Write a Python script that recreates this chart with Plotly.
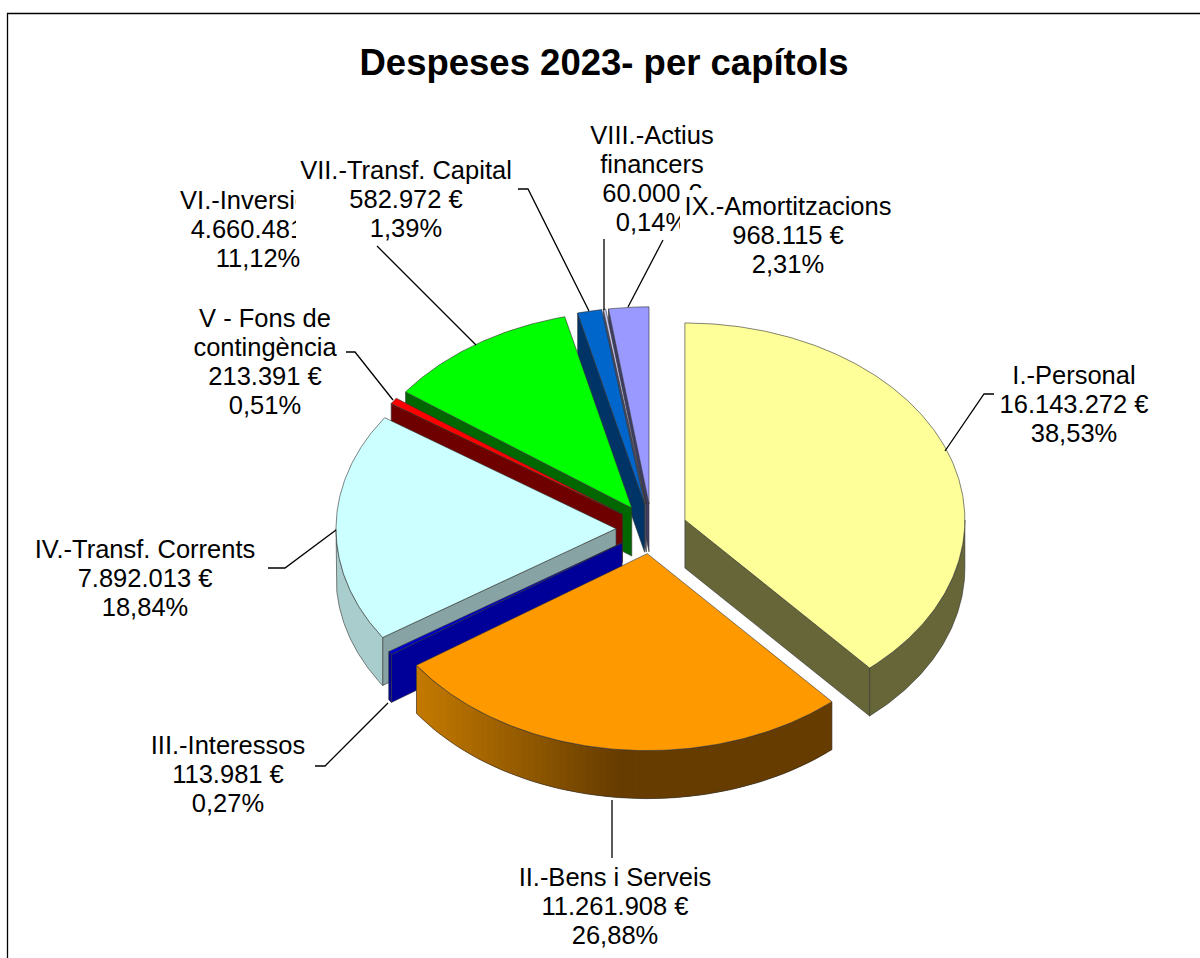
import math
import plotly.graph_objects as go

# ---- data ----
categories = ["I.-Personal", "II.-Bens i Serveis", "III.-Interessos", "IV.-Transf. Corrents",
              "V - Fons de contingència", "VI.-Inversions", "VII.-Transf. Capital",
              "VIII.-Actius financers", "IX.-Amortitzacions"]
values = [16143272, 11261908, 113981, 7892013, 213391, 4660481, 582972, 60000, 968115]
amount_labels = ["16.143.272 €", "11.261.908 €", "113.981 €", "7.892.013 €", "213.391 €",
                 "4.660.481 €", "582.972 €", "60.000 €", "968.115 €"]
percent_labels = ["38,53%", "26,88%", "0,27%", "18,84%", "0,51%", "11,12%", "1,39%", "0,14%", "2,31%"]
name_lines = [["I.-Personal"], ["II.-Bens i Serveis"], ["III.-Interessos"], ["IV.-Transf. Corrents"],
              ["V - Fons de", "contingència"], ["VI.-Inversions"], ["VII.-Transf. Capital"],
              ["VIII.-Actius", "financers"], ["IX.-Amortitzacions"]]
title_text = "Despeses 2023- per capítols"

# ---- styles ----
top_colors = ["#FFFF99", "#FF9900", "#0000C8", "#CCFFFF", "#FF0000", "#00FF00", "#0066CC", "#C8C8F0", "#9999FF"]
cut_colors = ["#666638", "#663C00", "#000099", "#88A3A3", "#6E0000", "#006600", "#003366", "#50506A", "#3D3D66"]
outer_colors = ["#666638", None, "#000099", "#A9CCCC", "#6E0000", "#006600", "#003366", "#50506A", "#3D3D66"]
edge = "rgba(50,50,50,0.6)"
FONT = "Liberation Sans"
LABEL_SIZE = 25.5
LINE_STEP = 29

# geometry of the tilted pie, in page pixels
CX, CY, RX, RY, DEPTH, EXPLODE = 651.6, 528.8, 280.0, 197.0, 48.0, 0.127

# label block: centre x, y of first line
label_pos = [(1074, 378), (615, 880), (228, 748), (145, 552), (265, 321), (258, 203), (406, 173), (652, 138), (788, 209)]
# white boxes that hide neighbouring labels: painted just before the label of that index
label_masks = {6: (296, 155, 520, 244), 8: (680, 190, 895, 285)}
leaders = [
    [(945, 451), (984, 394), (994, 394)],
    [(612, 800), (612, 858)],
    [(388, 703), (325, 766), (315, 766)],
    [(336, 530), (285, 568), (268, 568)],
    [(393, 400), (355, 352), (346, 352)],
    [(476, 345), (377, 246)],
    [(589, 311), (528, 189), (518, 189)],
    [(604, 310), (604, 239)],
    [(628, 307), (663, 240)],
]

total = sum(values)
fig = go.Figure()


def poly(xs, ys, fill, line=edge, width=1.0):
    fig.add_trace(go.Scatter(x=list(xs) + [xs[0]], y=list(ys) + [ys[0]], mode="lines", fill="toself",
                             fillcolor=fill, line=dict(color=line, width=width),
                             hoverinfo="skip", showlegend=False))


def pt(c, deg, r=1.0):
    a = math.radians(deg)
    return c[0] + r * RX * math.sin(a), c[1] - r * RY * math.cos(a)


def lerp_hex(t):
    a, b = (0xC4, 0x7A, 0x00), (0x66, 0x3C, 0x00)
    return "rgb(%d,%d,%d)" % tuple(round(a[i] + (b[i] - a[i]) * t) for i in range(3))


def outer_wall(c, a0, a1, color):
    lo, hi = max(a0, 90), min(a1, 270)
    if hi <= lo:
        return
    if color is None:
        n = 70
        # painted right to left, with every strip reaching over the next one so no seams show
        for k in range(n):
            s0 = lo + (hi - lo) * k / n
            s1 = lo + (hi - lo) * min(n, k + 2) / n
            s_mid = lo + (hi - lo) * (k + 0.5) / n
            xm, _ = pt(c, s_mid)
            t = min(1, max(0, (xm - 417) / (620 - 417)))
            col = lerp_hex(t)
            ang = [s0 + (s1 - s0) * j / 3 for j in range(4)]
            arc = [pt(c, a) for a in ang]
            poly([p[0] for p in arc] + [p[0] for p in arc[::-1]],
                 [p[1] for p in arc] + [p[1] + DEPTH for p in arc[::-1]], col, col, 0)
        ang = [lo + (hi - lo) * k / 80 for k in range(81)]
        pts = [pt(c, a) for a in ang]
        fig.add_trace(go.Scatter(x=[p[0] for p in pts] + [pts[-1][0]] + [p[0] for p in pts[::-1]] + [pts[0][0], pts[0][0]],
                                 y=[p[1] + DEPTH for p in pts] + [pts[-1][1]] + [p[1] for p in pts[::-1]] + [pts[0][1] + DEPTH, pts[0][1] + DEPTH],
                                 mode="lines", line=dict(color=edge, width=1.0), hoverinfo="skip", showlegend=False))
    else:
        ang = [lo + (hi - lo) * k / 80 for k in range(81)]
        pts = [pt(c, a) for a in ang]
        poly([p[0] for p in pts] + [p[0] for p in pts[::-1]],
             [p[1] for p in pts] + [p[1] + DEPTH for p in pts[::-1]], color)


# slice angles, clockwise from the top
spans = []
acc = 0.0
for v in values:
    spans.append((acc, acc + v / total * 360))
    acc += v / total * 360

# back-to-front painting
for i in [0, 8, 7, 6, 5, 4, 3, 2, 1]:
    a0, a1 = spans[i]
    mid = math.radians((a0 + a1) / 2)
    c = (CX + EXPLODE * RX * math.sin(mid), CY - EXPLODE * RY * math.cos(mid))
    # radial cut faces that look towards the viewer
    if 180 < a0 < 360:
        x, y = pt(c, a0)
        poly([c[0], x, x, c[0]], [c[1], y, y + DEPTH, c[1] + DEPTH], cut_colors[i])
    if 0 < a1 < 180:
        x, y = pt(c, a1)
        poly([c[0], x, x, c[0]], [c[1], y, y + DEPTH, c[1] + DEPTH], cut_colors[i])
    outer_wall(c, a0, a1, outer_colors[i])
    # top face
    n = max(2, int((a1 - a0) * 2))
    arc = [pt(c, a0 + (a1 - a0) * k / n) for k in range(n + 1)]
    poly([c[0]] + [p[0] for p in arc], [c[1]] + [p[1] for p in arc], top_colors[i])

# labels, one text point per line so the line step is exact
for i in [0, 1, 2, 3, 4, 5, 7, 6, 8]:
    if i in label_masks:
        x0, y0, x1, y1 = label_masks[i]
        poly([x0, x1, x1, x0], [y0, y0, y1, y1], "#FFFFFF", "#FFFFFF", 0)
    lines = name_lines[i] + [amount_labels[i], percent_labels[i]]
    lx, ly = label_pos[i]
    fig.add_trace(go.Scatter(x=[lx] * len(lines), y=[ly + k * LINE_STEP for k in range(len(lines))],
                             mode="text", text=lines, textposition="middle center",
                             textfont=dict(family=FONT, size=LABEL_SIZE, color="#000000"),
                             hoverinfo="skip", showlegend=False))

shapes = [dict(type="path", path="M 7.5 958 L 7.5 13.5 L 1200 13.5", line=dict(color="#000000", width=1.3), layer="above")]
for pts in leaders:
    path = "M " + " L ".join("%g %g" % p for p in pts)
    shapes.append(dict(type="path", path=path, line=dict(color="#000000", width=1.3), layer="above"))

fig.add_trace(go.Scatter(x=[604], y=[66], mode="text", text=["<b>%s</b>" % title_text], textposition="middle center",
                         textfont=dict(family=FONT, size=36.5, color="#000000"), hoverinfo="skip", showlegend=False))

fig.update_layout(
    width=1200, height=958, margin=dict(l=0, r=0, t=0, b=0), autosize=False,
    paper_bgcolor="#FFFFFF", plot_bgcolor="#FFFFFF", showlegend=False, shapes=shapes,
    xaxis=dict(range=[0, 1200], visible=False, fixedrange=True),
    yaxis=dict(range=[958, 0], visible=False, fixedrange=True),
)
fig.write_html("out.html", config={"displayModeBar": False},
               post_script="document.body.style.margin='0';document.documentElement.style.overflow='hidden';")
